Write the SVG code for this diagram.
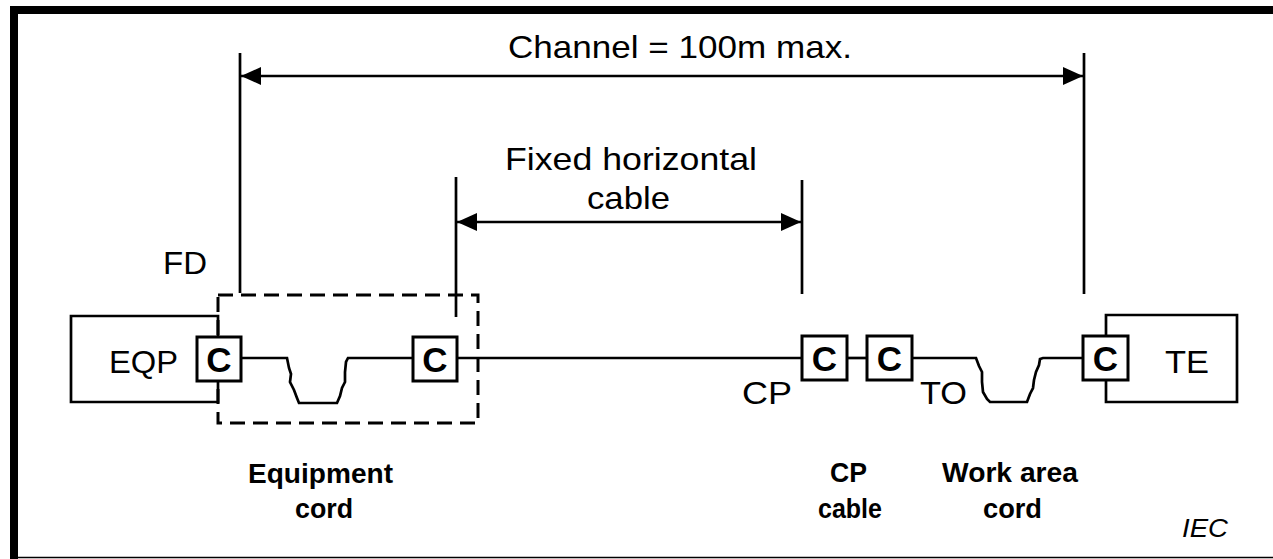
<svg xmlns="http://www.w3.org/2000/svg" width="1273" height="559" viewBox="0 0 1273 559">
<defs>
<marker id="ah" viewBox="0 0 20 20" refX="20" refY="10" markerWidth="20" markerHeight="20" markerUnits="userSpaceOnUse" orient="auto-start-reverse">
<path d="M0,1 L20,10 L0,19 Z" fill="#000"/>
</marker>
<style>
.ln{stroke:#000;stroke-width:2.7;fill:none}
.box{stroke:#000;stroke-width:3;fill:#fff}
.t{font-family:"Liberation Sans",Arial,sans-serif;font-size:32px;fill:#000}
.c{font-family:"Liberation Sans",Arial,sans-serif;font-size:35px;font-weight:bold;fill:#000;text-anchor:middle}
.b{font-family:"Liberation Sans",Arial,sans-serif;font-size:28px;font-weight:bold;fill:#000;text-anchor:middle}
.dash{stroke:#000;stroke-width:3;fill:none;stroke-dasharray:15 8}
</style>
</defs>
<rect width="1273" height="559" fill="#fff"/>
<g id="frame">
<rect x="10" y="6" width="1263" height="8" fill="#000"/>
<rect x="10" y="6" width="8" height="553" fill="#000"/>
<line x1="18" y1="557.5" x2="1273" y2="557.5" stroke="#000" stroke-width="1.5"/>
</g>
<g id="connectors">
<line class="ln" x1="240" y1="53" x2="240" y2="293"/>
<line class="ln" x1="1084" y1="53" x2="1084" y2="294"/>
<line class="ln" x1="456" y1="177" x2="456" y2="317"/>
<line class="ln" x1="802" y1="180" x2="802" y2="294"/>
<line class="ln" x1="241" y1="76" x2="1083" y2="76" marker-start="url(#ah)" marker-end="url(#ah)"/>
<line class="ln" x1="457" y1="222" x2="801" y2="222" marker-start="url(#ah)" marker-end="url(#ah)"/>
<path class="ln" d="M241,358 H287 L289,368 L291,374 L290,382 L294,390 L297,398 L299,403 H337 L340,396 L342,388 L345,382 L345,372 L346,362 L348,358 H413"/>
<line class="ln" x1="457" y1="358" x2="802" y2="358"/>
<line class="ln" x1="847" y1="358" x2="867" y2="358"/>
<path class="ln" d="M912,358 H976 L979,366 L982,372 L982,382 L983,392 L987,399 L990,402 H1027 L1030,394 L1033,388 L1034,380 L1036,372 L1039,365 L1040,359 L1043,358 H1083"/>
</g>
<g id="fd-box">
<rect class="dash" x="218" y="295" width="260" height="128"/>
<text class="t" x="163" y="274" textLength="44" lengthAdjust="spacingAndGlyphs">FD</text>
</g>
<g id="eqp">
<path class="ln" d="M218,337 V316 H71 V402 H218 V381" stroke-width="3"/>
<text class="t" x="109" y="373" textLength="69" lengthAdjust="spacingAndGlyphs">EQP</text>
</g>
<g id="c1"><rect class="box" x="197" y="337" width="44" height="44"/><text class="c" x="219" y="372">C</text></g>
<g id="c2"><rect class="box" x="413" y="337" width="44" height="44"/><text class="c" x="435" y="372">C</text></g>
<g id="c3"><rect class="box" x="802" y="336" width="45" height="44"/><text class="c" x="824.5" y="371">C</text></g>
<g id="c4"><rect class="box" x="867" y="336" width="45" height="44"/><text class="c" x="889.5" y="371">C</text></g>
<g id="te">
<path class="ln" d="M1106,336 V315 H1237 V402 H1106 V380" stroke-width="3"/>
<rect class="box" x="1083" y="336" width="45" height="44"/><text class="c" x="1105.5" y="371">C</text>
<text class="t" x="1165" y="373" textLength="44" lengthAdjust="spacingAndGlyphs">TE</text>
</g>
<g id="labels">
<text class="t" x="508" y="58" textLength="344" lengthAdjust="spacingAndGlyphs">Channel = 100m max.</text>
<text class="t" x="505" y="170" textLength="252" lengthAdjust="spacingAndGlyphs">Fixed horizontal</text>
<text class="t" x="587" y="209" textLength="83" lengthAdjust="spacingAndGlyphs">cable</text>
<text class="t" x="742" y="404" textLength="50" lengthAdjust="spacingAndGlyphs">CP</text>
<text class="t" x="920" y="404" textLength="47" lengthAdjust="spacingAndGlyphs">TO</text>
<text class="b" x="320.5" y="483" textLength="145" lengthAdjust="spacingAndGlyphs">Equipment</text>
<text class="b" x="324" y="518" textLength="58" lengthAdjust="spacingAndGlyphs">cord</text>
<text class="b" x="848.5" y="482" textLength="37" lengthAdjust="spacingAndGlyphs">CP</text>
<text class="b" x="850" y="518" textLength="64" lengthAdjust="spacingAndGlyphs">cable</text>
<text class="b" x="1010" y="482" textLength="136" lengthAdjust="spacingAndGlyphs">Work area</text>
<text class="b" x="1012.5" y="518" textLength="59" lengthAdjust="spacingAndGlyphs">cord</text>
<text x="1182" y="537" font-family="Liberation Sans, Arial, sans-serif" font-size="25" font-style="italic" textLength="46" lengthAdjust="spacingAndGlyphs">IEC</text>
</g>
</svg>
